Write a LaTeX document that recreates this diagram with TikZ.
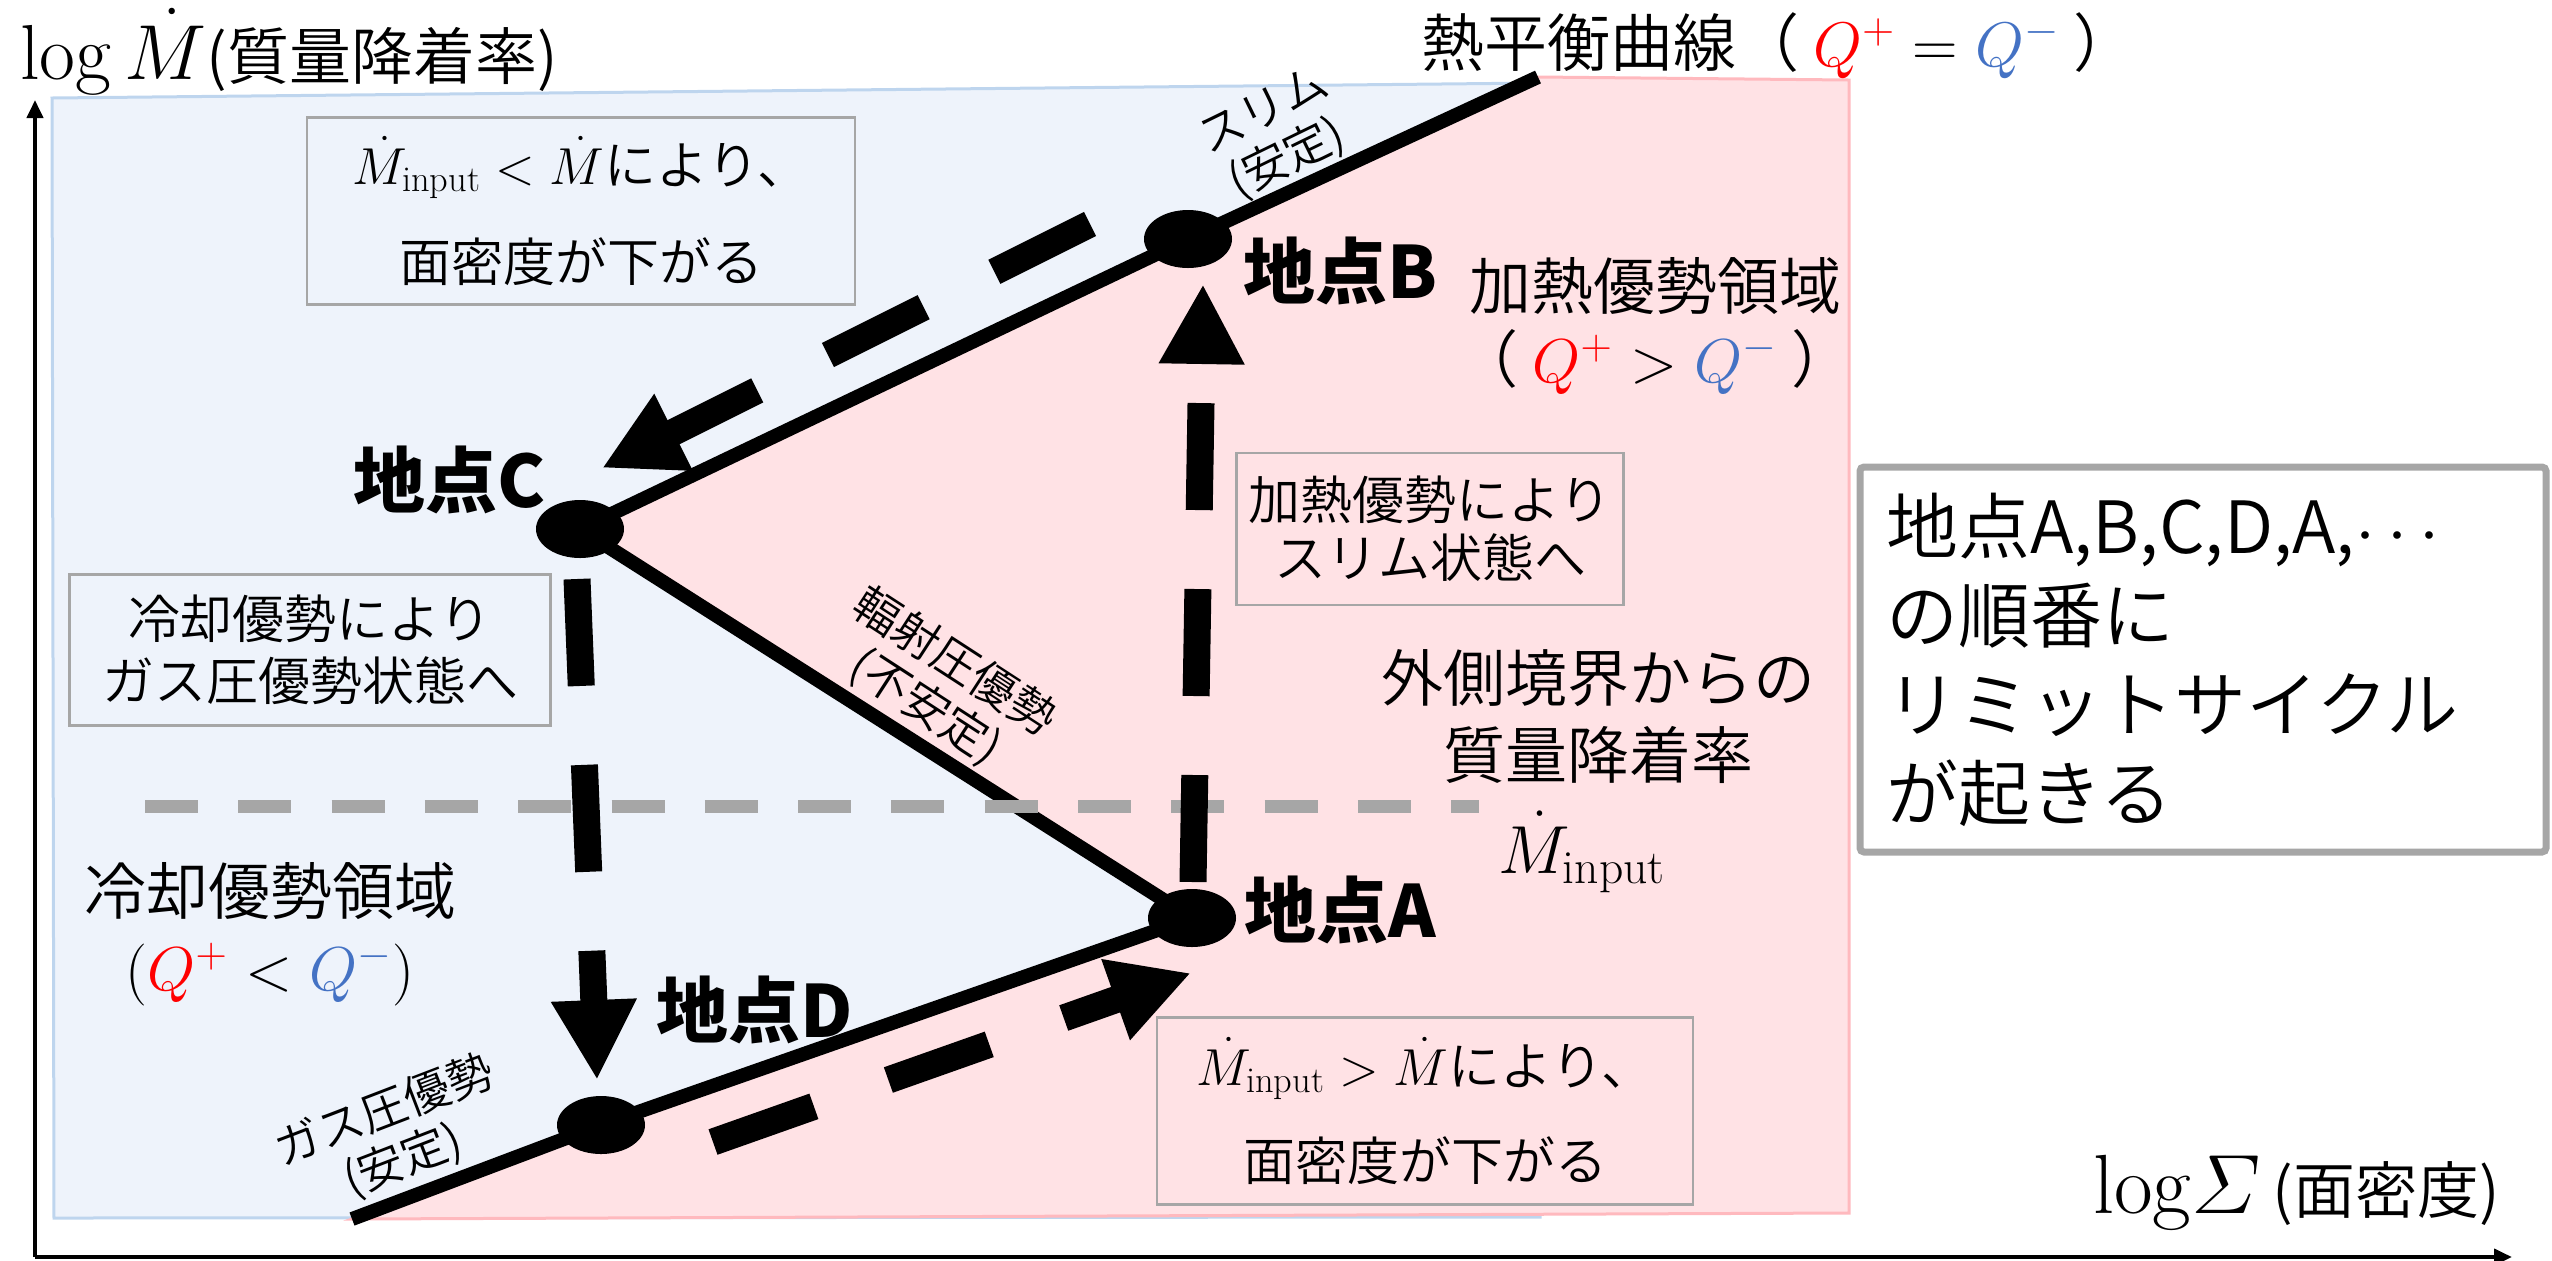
\RequirePackage{fix-cm}
\documentclass[tikz,border=0pt]{standalone}
\usepackage{amsmath}
\usepackage{fontspec}
\IfFontExistsTF{Noto Sans CJK JP DemiLight}
  {\newfontfamily\cjk{Noto Sans CJK JP DemiLight}}
  {\IfFontExistsTF{Noto Sans CJK JP Light}
     {\newfontfamily\cjk{Noto Sans CJK JP Light}}
     {\newfontfamily\cjk{Noto Sans CJK JP}}}
\newfontfamily\cjkbold{Noto Sans CJK JP}
\usetikzlibrary{arrows.meta,shapes.geometric}
\definecolor{bluebg}{RGB}{238,243,251}
\definecolor{blueedge}{RGB}{190,213,238}
\definecolor{pinkbg}{RGB}{255,226,229}
\definecolor{pinkedge}{RGB}{255,185,190}
\definecolor{boxgray}{RGB}{166,166,166}
\definecolor{qred}{RGB}{255,0,0}
\definecolor{qblue}{RGB}{68,114,196}
\pgfdeclarelayer{bg}
\pgfdeclarelayer{mid}
\pgfsetlayers{bg,mid,main}
\begin{document}
\begin{tikzpicture}[x=0.5pt,y=-0.5pt,
  curve/.style={line width=7pt,line cap=butt,line join=miter},
  dotn/.style={ellipse,fill=black,minimum width=44pt,minimum height=29pt,inner sep=0pt},
  cyc/.style={line width=13.5pt,line cap=butt,dash pattern=on 53.5pt off 39.5pt,-{Triangle[length=40pt,width=40pt]}},
  refline/.style={line width=6.5pt,draw=boxgray,dash pattern=on 26.5pt off 20.15pt},
  axisline/.style={line width=2pt,-{Triangle[length=9pt,width=8pt]}},
  tbox/.style={draw=boxgray,line width=1.2pt,inner sep=0pt,align=center},
  rlab/.style={align=center,inner sep=0pt,font=\cjk\fontsize{23}{26.5}\selectfont},
  ptlab/.style={inner sep=0pt,font=\cjkbold\bfseries\fontsize{36}{36}\selectfont},
  biglab/.style={align=center,inner sep=0pt}]
\useasboundingbox (0,0) rectangle (2552,1260);

% named coordinates
\coordinate (bot) at (352,1219);
\coordinate (top) at (1538,77);
\coordinate (orig) at (35,1257);
\coordinate (ytip) at (35,100);
\coordinate (xtip) at (2512,1257);
\coordinate (gl) at (145,806);
\coordinate (gr) at (1479,806);
\coordinate (ab0) at (1193,882);
\coordinate (ab1) at (1203,284);
\coordinate (bc0) at (1090,224);
\coordinate (bc1) at (602,468);
\coordinate (cd0) at (577,579);
\coordinate (cd1) at (597,1080);
\coordinate (da0) at (713,1142);
\coordinate (da1) at (1191,973);

% state points
\node[dotn] (D) at (601,1125) {};
\node[dotn] (A) at (1192,918) {};
\node[dotn] (C) at (580,529) {};
\node[dotn] (B) at (1188,239) {};

% regions
\begin{pgfonlayer}{bg}
\path[fill=bluebg,draw=blueedge,line width=1.5pt] (52,98) -- (1540,83) -- (1540,1217) -- (54,1218) -- cycle;
\path[fill=pinkbg,draw=pinkedge,line width=1.5pt] (top) -- (1849,80) -- (1849,1213) -- (bot) -- (A.center) -- (C.center) -- cycle;
\end{pgfonlayer}

% equilibrium curve
\begin{pgfonlayer}{mid}
\draw[curve] (bot) -- (D.center) -- (A.center) -- (C.center) -- (B.center) -- (top);
\end{pgfonlayer}

% axes
\draw[axisline] (orig) -- (ytip);
\draw[axisline] (orig) -- (xtip);

% input accretion rate line
\draw[refline] (gl) -- (gr);

% cycle arrows
\draw[cyc] (ab0) -- (ab1);
\draw[cyc] (bc0) -- (bc1);
\draw[cyc] (cd0) -- (cd1);
\draw[cyc] (da0) -- (da1);

% axis labels
\node[anchor=base west,inner sep=0pt] (ylab) at (20,79) {{\fontsize{39}{39}\selectfont$\log\dot{M}$}{\cjk\fontsize{31}{31}\selectfont(質量降着率)}};
\node[anchor=base west,inner sep=0pt] (xlab) at (2093,1213) {{\fontsize{42}{42}\selectfont$\mathrm{log}\varSigma$}{\cjk\fontsize{31}{31}\selectfont\hspace{6pt}(面密度)}};

% labels
\node[anchor=west,inner sep=0pt,font=\cjk\fontsize{31.5}{36}\selectfont] (eqlab) at (1421,46) {熱平衡曲線（ ${\color{qred}Q^{+}} = {\color{qblue}Q^{-}}$ ）};
\node[biglab,font=\cjk\fontsize{31}{36.5}\selectfont] (heatlab) at (1655,326) {加熱優勢領域\\（ ${\color{qred}Q^{+}} > {\color{qblue}Q^{-}}$ ）};
\node[biglab,font=\cjk\fontsize{31}{38}\selectfont] (coollab) at (270,934) {冷却優勢領域\\$({\color{qred}Q^{+}} < {\color{qblue}Q^{-}})$};
\node[biglab,font=\cjk\fontsize{31}{38.5}\selectfont] (outlab) at (1598,717) {外側境界からの\\質量降着率};
\node[anchor=base west,inner sep=0pt,font=\fontsize{34}{34}\selectfont] (minput) at (1498,873) {$\dot{M}_{\mathrm{input}}$};

\node[ptlab] (labB) at (1341,271) {地点B};
\node[ptlab] (labC) at (450,480) {地点C};
\node[ptlab] (labA) at (1340,910) {地点A};
\node[ptlab] (labD) at (755,1010) {地点D};

\node[rlab,rotate=26] (slimlab) at (1276,136) {スリム\\(安定)};
\node[rlab,rotate=-33] (radlab) at (940,685) {輻射圧優勢\\(不安定)};
\node[rlab,rotate=21] (gaslab) at (394,1136) {ガス圧優勢\\(安定)};

% text boxes
\node[tbox,minimum width=274pt,minimum height=93.5pt,font=\cjk\fontsize{26}{31}\selectfont] (box1) at (581,211) {$\dot{M}_{\mathrm{input}}<\dot{M}$により、\\[17.5pt]面密度が下がる};
\node[tbox,minimum width=193.5pt,minimum height=76pt,font=\cjk\fontsize{26}{29}\selectfont] (box2) at (1430,529) {加熱優勢により\\スリム状態へ};
\node[tbox,minimum width=240.5pt,minimum height=75.5pt,font=\cjk\fontsize{26}{31}\selectfont] (box3) at (310,650) {冷却優勢により\\ガス圧優勢状態へ};
\node[tbox,minimum width=268pt,minimum height=93.5pt,font=\cjk\fontsize{26}{31}\selectfont] (box4) at (1425,1111) {$\dot{M}_{\mathrm{input}}>\dot{M}$により、\\[16.5pt]面密度が下がる};

\node[draw=boxgray,line width=3.5pt,fill=white,rounded corners=2pt,minimum height=192.5pt,text width=317pt,inner xsep=13pt,inner ysep=0pt,align=left,font=\cjk\fontsize{36}{44.5}\selectfont] (rbox) at (2203,659.5) {地点A,B,C,D,A,$\cdots$\\の順番に\\リミットサイクル\\が起きる};
\end{tikzpicture}
\end{document}
